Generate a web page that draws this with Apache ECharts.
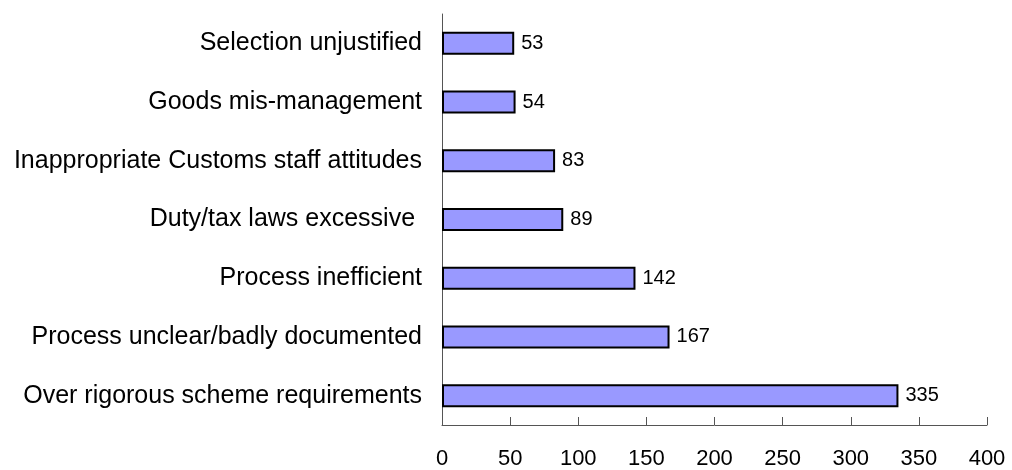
<!DOCTYPE html>
<html>
<head>
<meta charset="utf-8">
<script src="https://cdn.jsdelivr.net/npm/echarts@6/dist/echarts.min.js"></script>
<style>
html,body{margin:0;padding:0;background:#fff;}
#chart{width:1012px;height:470px;}
</style>
</head>
<body>
<div id="chart"></div>
<script>
const categories = [
  "Over rigorous scheme requirements",
  "Process unclear/badly documented",
  "Process inefficient",
  "Duty/tax laws excessive ",
  "Inappropriate Customs staff attitudes",
  "Goods mis-management",
  "Selection unjustified"
];
const values = [335, 167, 142, 89, 83, 54, 53];
const xTicks = [0, 50, 100, 150, 200, 250, 300, 350, 400];

const chart = echarts.init(document.getElementById('chart'), null, {renderer: 'canvas'});
chart.setOption({
  animation: false,
  backgroundColor: '#ffffff',
  textStyle: {fontFamily: 'Liberation Sans, Arial, sans-serif'},
  grid: {left: 442, right: 25, top: 14, bottom: 45, containLabel: false, outerBoundsMode: 'none'},
  xAxis: {
    type: 'value',
    min: xTicks[0],
    max: xTicks[xTicks.length - 1],
    interval: xTicks[1] - xTicks[0],
    axisLine: {show: true, lineStyle: {color: '#555555', width: 1}},
    axisTick: {show: true, inside: true, length: 8, lineStyle: {color: '#555555', width: 1}},
    splitLine: {show: false},
    axisLabel: {color: '#000', fontSize: 22, margin: 23, fontFamily: 'Liberation Sans, Arial, sans-serif'}
  },
  yAxis: {
    type: 'category',
    data: categories,
    axisLine: {show: true, lineStyle: {color: '#555555', width: 1}},
    axisTick: {show: false},
    splitLine: {show: false},
    axisLabel: {color: '#000', fontSize: 25, margin: 20, fontFamily: 'Liberation Sans, Arial, sans-serif'}
  },
  series: [{
    type: 'bar',
    data: values,
    barWidth: 23,
    itemStyle: {color: '#9999FF', borderColor: '#000000', borderWidth: 2},
    label: {show: true, position: 'right', distance: 7, color: '#000', fontSize: 20, fontFamily: 'Liberation Sans, Arial, sans-serif'}
  }]
});
</script>
</body>
</html>
